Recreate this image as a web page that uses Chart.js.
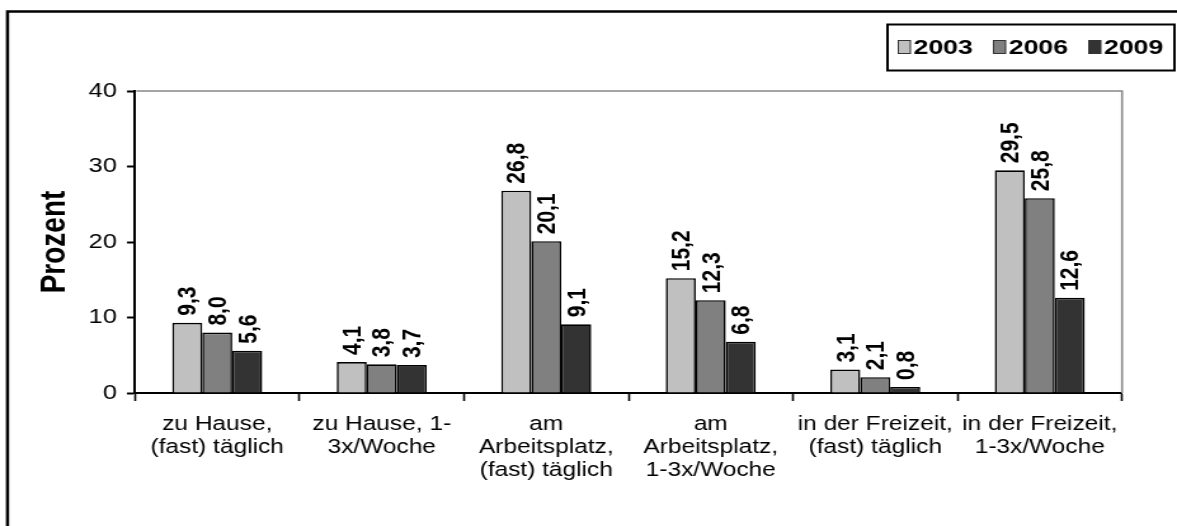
<!DOCTYPE html>
<html>
<head>
<meta charset="utf-8">
<script src="https://cdn.jsdelivr.net/npm/chart.js@4.4.1/dist/chart.umd.min.js"></script>
<style>
  html, body { margin: 0; padding: 0; background: #fff; overflow: hidden; }
  #chart { display: block; }
</style>
</head>
<body>
<!-- drawn 927 wide, widened to 1177 by the inline style -->
<canvas id="chart" width="927" height="526" style="width:1177px;height:526px"></canvas>
<script>
const categories = [
    ['zu Hause,', '(fast) täglich'],
    ['zu Hause, 1-', '3x/Woche'],
    ['am', 'Arbeitsplatz,', '(fast) täglich'],
    ['am', 'Arbeitsplatz,', '1-3x/Woche'],
    ['in der Freizeit,', '(fast) täglich'],
    ['in der Freizeit,', '1-3x/Woche']
];
const years = ['2003', '2006', '2009'];
const values2003 = [9.3, 4.1, 26.8, 15.2, 3.1, 29.5];
const values2006 = [8.0, 3.8, 20.1, 12.3, 2.1, 25.8];
const values2009 = [5.6, 3.7, 9.1, 6.8, 0.8, 12.6];
const yTicks = [0, 10, 20, 30, 40];

const colors = ['#c0c0c0', '#808080', '#333333'];
const FONT = "'Liberation Sans', Arial, sans-serif";
Chart.defaults.font.family = FONT;
Chart.defaults.color = '#000';

// frame, plot border, boxed legend
const decorations = {
    id: 'decorations',
    beforeDraw(chart) {
        const ctx = chart.ctx;
        ctx.save();
        ctx.fillStyle = '#fff';
        ctx.fillRect(0, 0, chart.width, chart.height);
        ctx.strokeStyle = '#000';
        ctx.lineWidth = 2.5;
        ctx.beginPath();
        ctx.moveTo(chart.width + 5, 11.5);
        ctx.lineTo(5.9, 11.5);
        ctx.lineTo(5.9, chart.height + 5);
        ctx.stroke();
        ctx.restore();
    },
    afterDraw(chart) {
        const ctx = chart.ctx;
        const a = chart.chartArea;
        ctx.save();
        ctx.strokeStyle = '#888';
        ctx.lineWidth = 1.6;
        ctx.beginPath();
        ctx.moveTo(a.left + 1, a.top);
        ctx.lineTo(a.right, a.top);
        ctx.lineTo(a.right, a.bottom);
        ctx.stroke();

        // legend
        const bx = 699, by = 24.5, bw = 226, bh = 46;
        ctx.strokeStyle = '#000';
        ctx.lineWidth = 2;
        ctx.strokeRect(bx, by, bw, bh);
        ctx.font = 'bold 21px ' + FONT;
        ctx.textBaseline = 'middle';
        ctx.textAlign = 'left';
        let x = 707.5;
        chart.data.datasets.forEach(ds => {
            ctx.fillStyle = ds.backgroundColor;
            ctx.fillRect(x, by + 16, 9.5, 13);
            ctx.strokeStyle = '#333';
            ctx.lineWidth = 1;
            ctx.strokeRect(x, by + 16, 9.5, 13);
            ctx.fillStyle = '#000';
            ctx.fillText(ds.label, x + 12, by + bh / 2 + 1);
            x += 75;
        });
        ctx.restore();
    }
};

// vertical value labels above each bar
const barValues = {
    id: 'barValues',
    afterDatasetsDraw(chart) {
        const ctx = chart.ctx;
        ctx.save();
        ctx.font = 'bold 21px ' + FONT;
        ctx.fillStyle = '#000';
        ctx.textAlign = 'left';
        ctx.textBaseline = 'middle';
        chart.data.datasets.forEach((ds, i) => {
            chart.getDatasetMeta(i).data.forEach((bar, j) => {
                const txt = ds.data[j].toFixed(1).replace('.', ',');
                ctx.save();
                ctx.translate(bar.x, bar.y - 7);
                ctx.rotate(-Math.PI / 2);
                ctx.fillText(txt, 0, 1);
                ctx.restore();
            });
        });
        ctx.restore();
    }
};

const seriesValues = [values2003, values2006, values2009];

new Chart(document.getElementById('chart'), {
    type: 'bar',
    data: {
        labels: categories,
        datasets: years.map((y, i) => ({
            label: y,
            data: seriesValues[i],
            backgroundColor: colors[i],
            borderColor: '#000',
            borderWidth: 1.6,
            borderSkipped: 'bottom',
            categoryPercentage: 0.547,
            barPercentage: 1
        }))
    },
    options: {
        responsive: false,
        devicePixelRatio: 1,
        animation: false,
        layout: { padding: { top: 91, right: 43.3, left: 0, bottom: 0 } },
        plugins: {
            legend: { display: false },
            tooltip: { enabled: false }
        },
        scales: {
            x: {
                afterFit(scale) { scale.height = 133; },
                grid: {
                    offset: true,
                    drawOnChartArea: false,
                    drawTicks: true,
                    tickLength: 8,
                    tickWidth: 1.6,
                    tickColor: '#000'
                },
                border: { display: true, color: '#000', width: 2 },
                ticks: {
                    autoSkip: false,
                    maxRotation: 0,
                    padding: 12,
                    color: '#000',
                    font: { size: 19.3, lineHeight: 1.2 }
                }
            },
            y: {
                min: 0,
                max: 40,
                afterFit(scale) { scale.width = 106.3; },
                afterBuildTicks(scale) { scale.ticks = yTicks.map(v => ({ value: v })); },
                grid: {
                    drawOnChartArea: false,
                    drawTicks: true,
                    tickLength: 6.3,
                    tickWidth: 2,
                    tickColor: '#000'
                },
                border: { display: true, color: '#000', width: 2 },
                ticks: {
                    padding: 8,
                    color: '#000',
                    font: { size: 20 }
                },
                title: {
                    display: true,
                    text: 'Prozent',
                    color: '#000',
                    padding: { top: 26, bottom: 0 },
                    font: { size: 28, weight: 'bold' }
                }
            }
        }
    },
    plugins: [decorations, barValues]
});
</script>
</body>
</html>
